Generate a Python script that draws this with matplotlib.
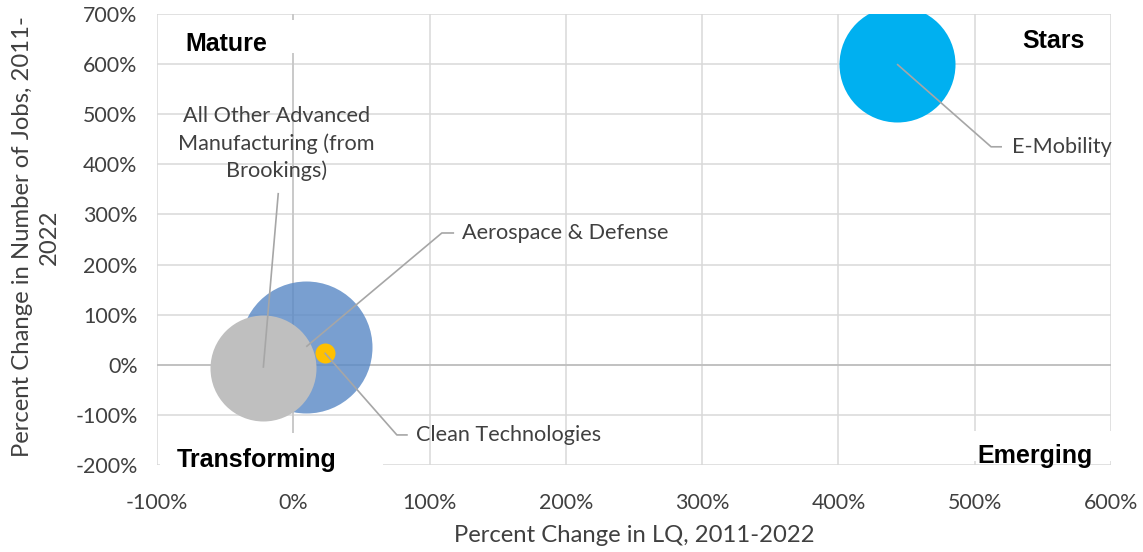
import matplotlib
matplotlib.use('Agg')
import matplotlib.pyplot as plt
from matplotlib.patches import Rectangle
from matplotlib.ticker import FuncFormatter, MultipleLocator

# bubble data (percent change in LQ, percent change in jobs, relative bubble size)
clusters = ['Aerospace & Defense', 'All Other Advanced\nManufacturing (from\nBrookings)',
            'Clean Technologies', 'E-Mobility']
lq_change = [9.5, -22, 23, 443]
jobs_change = [36, -6, 24, 600]
bubble_size = [4356, 2809, 100, 3364]
colors = ['#5B8AC6', '#BFBFBF', '#FFC000', '#00B0F0']
alphas = [0.82, 1, 1, 1]

x_ticks = [-100, 0, 100, 200, 300, 400, 500, 600]
y_ticks = [-200, -100, 0, 100, 200, 300, 400, 500, 600, 700]

txt = '#404040'
lead = '#A6A6A6'
label_font = 'Lato'

fig = plt.figure(figsize=(11.43, 5.52), dpi=100)
ax = fig.add_axes([157/1143, 1-465/552, 954/1143, 451/552])
ax.set_xlim(x_ticks[0], x_ticks[-1])
ax.set_ylim(y_ticks[0], y_ticks[-1])
ax.xaxis.set_major_locator(MultipleLocator(100))
ax.yaxis.set_major_locator(MultipleLocator(100))
pct = FuncFormatter(lambda v, p: '%d%%' % v)
ax.xaxis.set_major_formatter(pct)
ax.yaxis.set_major_formatter(pct)
ax.tick_params(length=0, labelsize=15.4, labelcolor=txt)
ax.tick_params(axis='x', pad=20)
ax.tick_params(axis='y', pad=14)
for lab in ax.get_xticklabels() + ax.get_yticklabels():
    lab.set_fontfamily(label_font)
for s in ax.spines.values():
    s.set_visible(False)
ax.grid(True, color='#D9D9D9', lw=1.1, zorder=0)
ax.set_axisbelow(True)
ax.axhline(0, color='#BFBFBF', lw=1.3, zorder=1)
ax.axvline(0, color='#C8C8C8', lw=1.3, zorder=1)

# bubbles, area proportional to size
k = (2 * 0.72) ** 2
for i in range(len(clusters)):
    ax.scatter(lq_change[i], jobs_change[i], s=bubble_size[i] * k, color=colors[i],
               alpha=alphas[i], linewidths=0, zorder=3 + i)

# data labels with leader lines
def leader(i, pts, tx, ty, ha='left'):
    xs = [lq_change[i]] + [p[0] for p in pts]
    ys = [jobs_change[i]] + [p[1] for p in pts]
    ax.plot(xs, ys, color=lead, lw=1.2, zorder=10, solid_capstyle='butt')
    ax.text(tx, ty, clusters[i], ha=ha, va='center', fontsize=15.6, color=txt,
            family=label_font, zorder=11, linespacing=1.42)

leader(0, [(109, 263), (118, 263)], 124, 263)
leader(1, [(-11, 343)], -12.5, 441, ha='center')
leader(2, [(76, -140), (84, -140)], 90, -140)
leader(3, [(512, 435), (520, 435)], 527, 435)

# quadrant labels
def wbox(x0, y0, x1, y1):
    r = Rectangle(((x0-157)/954, (465-y1)/451), (x1-x0)/954, (y1-y0)/451,
                  transform=ax.transAxes, facecolor='white', edgecolor='none',
                  zorder=12, clip_on=False)
    ax.add_patch(r)

wbox(162, 20, 302, 53)
wbox(160, 433, 383, 482)
wbox(966, 431, 1118, 461)

qfont = dict(family='Liberation Sans', weight='bold', fontsize=18, color='black', zorder=13)
ax.text((226-157)/954, (465-44)/451, 'Mature', ha='center', va='center', transform=ax.transAxes, **qfont)
ax.text((1053-157)/954, (465-41)/451, 'Stars', ha='center', va='center', transform=ax.transAxes, **qfont)
ax.text((257-157)/954, (465-460)/451, 'Transforming', ha='center', va='center', transform=ax.transAxes,
        clip_on=False, **qfont)
ax.text((1035-157)/954, (465-456)/451, 'Emerging', ha='center', va='center', transform=ax.transAxes,
        clip_on=False, **qfont)

fig.text(634/1143, 1-536/552, 'Percent Change in LQ, 2011-2022', ha='center', va='center',
         fontsize=17.2, color=txt, family=label_font)
fig.text(36/1143, 1-237/552, 'Percent Change in Number of Jobs, 2011-\n2022', ha='center', va='center',
         rotation=90, fontsize=17.2, color=txt, family=label_font, multialignment='center',
         linespacing=1.38)

fig.savefig('out.png', dpi=100)
